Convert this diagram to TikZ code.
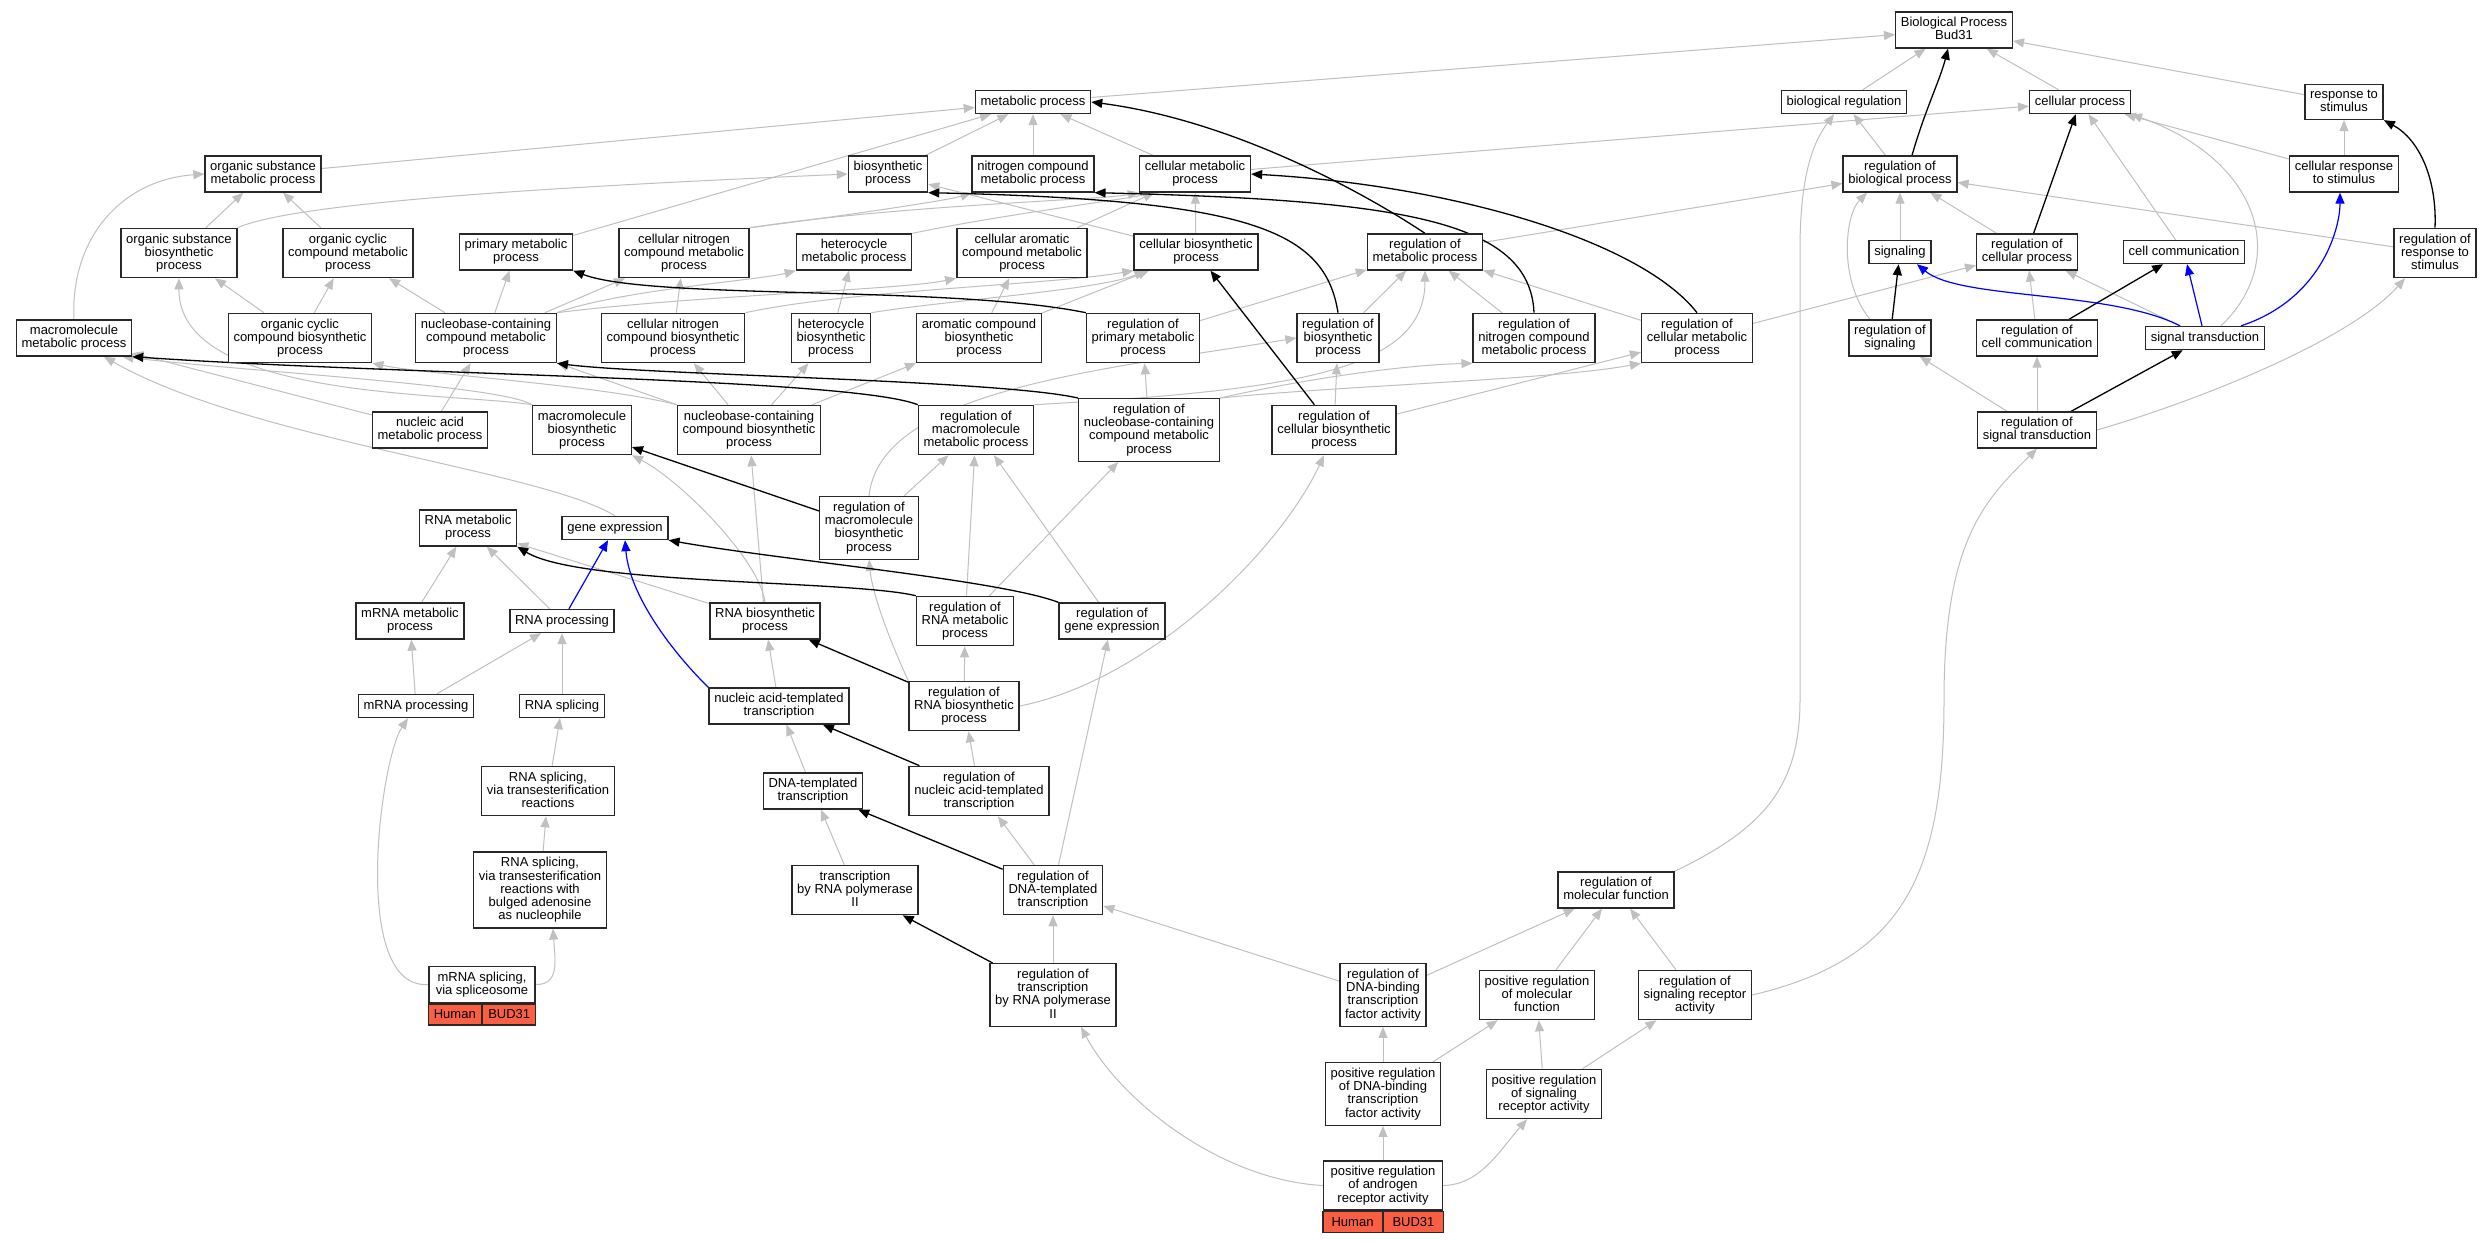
\documentclass[tikz,border=0pt]{standalone}
\usepackage{fontspec}
\setmainfont{Liberation Sans}
\usetikzlibrary{arrows.meta}
\pgfdeclarelayer{bg}
\pgfsetlayers{bg,main}
\definecolor{edgegray}{RGB}{192,192,192}
\definecolor{boxline}{RGB}{40,40,40}
\definecolor{annot}{RGB}{250,95,68}
\newcommand{\sT}{\rule[-1.4pt]{0pt}{6.3pt}}
\begin{document}
\begin{tikzpicture}[x=0.5pt,y=0.5pt,
 box/.style={draw=boxline, line width=0.7pt, fill=white, align=center, inner xsep=2.6pt, inner ysep=2.6pt, font=\fontsize{6.5}{6.65}\selectfont, execute at begin node=\sT, execute at end node=\sT},
 cell/.style={draw=boxline, line width=0.7pt, fill=annot, inner sep=0pt, minimum height=10.5pt, font=\fontsize{6.5}{6.65}\selectfont},
 arr/.style={-{Triangle[length=5.5pt,width=4.5pt]}},
 isa/.style={draw=edgegray, line width=0.5pt, arr},
 reg/.style={draw=black, line width=0.65pt, arr},
 partof/.style={draw=blue, line width=0.6pt, arr}]
\useasboundingbox (0,0) rectangle (2491,-1243);
\begin{pgfonlayer}{bg}
\fill[white] (0,0) rectangle (2491,-1243);
\end{pgfonlayer}
% nodes
\node[box] (bp) at (1954,-30) {Biological Process\\Bud31};
\node[box] (bioreg) at (1844,-102) {biological regulation};
\node[box] (cellproc) at (2080,-102) {cellular process};
\node[box] (resp) at (2344,-102) {response to\\stimulus};
\node[box] (metab) at (1033,-102) {metabolic process};
\node[box] (osmp) at (263,-174) {organic substance\\metabolic process};
\node[box] (biosyn) at (888,-174) {biosynthetic\\process};
\node[box] (ncmp) at (1033,-174) {nitrogen compound\\metabolic process};
\node[box] (cellmetab) at (1195,-174) {cellular metabolic\\process};
\node[box] (rbp) at (1900,-174) {regulation of\\biological process};
\node[box] (cresp) at (2344,-174) {cellular response\\to stimulus};
\node[box] (osbp) at (179,-253) {organic substance\\biosynthetic\\process};
\node[box] (occmp) at (348,-253) {organic cyclic\\compound metabolic\\process};
\node[box] (pmp) at (516,-252) {primary metabolic\\process};
\node[box] (cncmp) at (684,-253) {cellular nitrogen\\compound metabolic\\process};
\node[box] (hmp) at (854,-252) {heterocycle\\metabolic process};
\node[box] (cacmp) at (1022,-253) {cellular aromatic\\compound metabolic\\process};
\node[box] (cbp) at (1196,-252) {cellular biosynthetic\\process};
\node[box] (rmp) at (1425,-252) {regulation of\\metabolic process};
\node[box] (signaling) at (1900,-252) {signaling};
\node[box] (rcp) at (2027,-252) {regulation of\\cellular process};
\node[box] (cellcomm) at (2184,-252) {cell communication};
\node[box] (rrs) at (2435,-253) {regulation of\\response to\\stimulus};
\node[box] (mmp) at (74,-338) {macromolecule\\metabolic process};
\node[box] (occbp) at (300,-338) {organic cyclic\\compound biosynthetic\\process};
\node[box] (nccmp) at (486,-338) {nucleobase-containing\\compound metabolic\\process};
\node[box] (cncbp) at (673,-338) {cellular nitrogen\\compound biosynthetic\\process};
\node[box] (hbp) at (831,-338) {heterocycle\\biosynthetic\\process};
\node[box] (acbp) at (979,-338) {aromatic compound\\biosynthetic\\process};
\node[box] (rpmp) at (1143,-338) {regulation of\\primary metabolic\\process};
\node[box] (rbsp) at (1338,-338) {regulation of\\biosynthetic\\process};
\node[box] (rncmp) at (1534,-338) {regulation of\\nitrogen compound\\metabolic process};
\node[box] (rcmp) at (1697,-338) {regulation of\\cellular metabolic\\process};
\node[box] (rsig) at (1890,-338) {regulation of\\signaling};
\node[box] (rcc) at (2037,-338) {regulation of\\cell communication};
\node[box] (st) at (2205,-338) {signal transduction};
\node[box] (namp) at (430,-430) {nucleic acid\\metabolic process};
\node[box] (mbp) at (582,-430) {macromolecule\\biosynthetic\\process};
\node[box] (nccbp) at (749,-430) {nucleobase-containing\\compound biosynthetic\\process};
\node[box] (rmmp) at (976,-430) {regulation of\\macromolecule\\metabolic process};
\node[box] (rnccmp) at (1149,-430) {regulation of\\nucleobase-containing\\compound metabolic\\process};
\node[box] (rcbp) at (1334,-430) {regulation of\\cellular biosynthetic\\process};
\node[box] (rst) at (2037,-430) {regulation of\\signal transduction};
\node[box] (rnamp) at (468,-528) {RNA metabolic\\process};
\node[box] (ge) at (615,-528) {gene expression};
\node[box] (rmbp) at (869,-528) {regulation of\\macromolecule\\biosynthetic\\process};
\node[box] (mrnamp) at (410,-621) {mRNA metabolic\\process};
\node[box] (rnaproc) at (562,-621) {RNA processing};
\node[box] (rnabp) at (765,-621) {RNA biosynthetic\\process};
\node[box] (rrmp) at (965,-621) {regulation of\\RNA metabolic\\process};
\node[box] (rge) at (1112,-621) {regulation of\\gene expression};
\node[box] (mrnaproc) at (416,-706) {mRNA processing};
\node[box] (rnasplice) at (562,-706) {RNA splicing};
\node[box] (natt) at (779,-706) {nucleic acid-templated\\transcription};
\node[box] (rrbp) at (964,-706) {regulation of\\RNA biosynthetic\\process};
\node[box] (rsvt) at (548,-791) {RNA splicing,\\via transesterification\\reactions};
\node[box] (dtt) at (813,-791) {DNA-templated\\transcription};
\node[box] (rnatt) at (979,-791) {regulation of\\nucleic acid-templated\\transcription};
\node[box] (bulged) at (540,-890) {RNA splicing,\\via transesterification\\reactions with\\bulged adenosine\\as nucleophile};
\node[box] (trpol) at (855,-890) {transcription\\by RNA polymerase\\II};
\node[box] (rdtt) at (1053,-890) {regulation of\\DNA-templated\\transcription};
\node[box] (rmf) at (1616,-890) {regulation of\\molecular function};
\node[box, minimum width=53pt] (spliceo) at (482,-984.5) {mRNA splicing,\\via spliceosome};
\node[cell, minimum width=26.5pt, anchor=north east] (sph) at (spliceo.south) {Human};
\node[cell, minimum width=26.5pt, anchor=north west] (spb) at (spliceo.south) {BUD31};
\node[box] (rtpol) at (1053,-995) {regulation of\\transcription\\by RNA polymerase\\II};
\node[box] (rdbtfa) at (1383,-995) {regulation of\\DNA-binding\\transcription\\factor activity};
\node[box] (prmf) at (1537,-995) {positive regulation\\of molecular\\function};
\node[box] (rsra) at (1695,-995) {regulation of\\signaling receptor\\activity};
\node[box] (prdbtfa) at (1383,-1094) {positive regulation\\of DNA-binding\\transcription\\factor activity};
\node[box] (prsra) at (1544,-1094) {positive regulation\\of signaling\\receptor activity};
\node[box, minimum width=59.5pt] (prar) at (1383,-1185.5) {positive regulation\\of androgen\\receptor activity};
\node[cell, minimum width=29.75pt, anchor=north east] (prh) at (prar.south) {Human};
\node[cell, minimum width=29.75pt, anchor=north west] (prb) at (prar.south) {BUD31};
% edges
\begin{pgfonlayer}{bg}
% grey
\draw[isa] (bioreg) -- (bp);
\draw[isa] (cellproc) -- (bp);
\draw[isa] (resp) -- (bp);
\draw[isa] (metab) -- (bp);
\draw[isa] (rbp) -- (bioreg);
\draw[isa] (cellmetab) -- (cellproc);
\draw[isa] (cellcomm) -- (cellproc);
\draw[isa] ([xshift=8pt]st.north) .. controls (2290,-260) and (2260,-160) .. (cellproc.south east);
\draw[isa] (cresp) -- (cellproc);
\draw[isa] (cresp) -- (resp);
\draw[isa] (rrs) -- (rbp);
\draw[isa] (signaling) -- (rbp);
\draw[isa] (rcp) -- (rbp);
\draw[isa] ([xshift=-10pt]rsig.north) .. controls (1838,-280) and (1845,-215) .. ([xshift=-16.5pt]rbp.south);
\draw[isa] (rmp) -- (rbp);
\draw[isa] (rcc) -- (rcp);
\draw[isa] (st) -- (rcp);
\draw[isa] (rst) -- (rsig);
\draw[isa] (rst) -- (rcc);
\draw[isa] (rst.east) .. controls (2200,-400) and (2350,-340) .. ([xshift=-15pt]rrs.south);
\draw[isa] (rcmp) -- (rcp);
\draw[isa] (biosyn) -- (metab);
\draw[isa] (ncmp) -- (metab);
\draw[isa] (cellmetab) -- (metab);
\draw[isa] (osmp) -- (metab);
\draw[isa] (pmp) -- (metab);
\draw[isa] (osbp.north east) .. controls (300,-200) and (600,-185) .. (biosyn.west);
\draw[isa] (osbp) -- (osmp);
\draw[isa] (occmp) -- (osmp);
\draw[isa] (mmp.north) .. controls (70,-240) and (120,-180) .. (osmp.west);
\draw[isa] (occbp) -- (osbp);
\draw[isa] (occbp) -- (occmp);
\draw[isa] (nccmp) -- (occmp);
\draw[isa] (nccmp) -- (pmp);
\draw[isa] (nccmp) -- (cncmp);
\draw[isa] (nccmp.north east) .. controls (620,-290) and (760,-280) .. (hmp.south west);
\draw[isa] (nccmp.north east) .. controls (700,-295) and (900,-290) .. (cacmp.south west);
\draw[isa] (namp) -- (nccmp);
\draw[isa] (namp) -- (mmp);
\draw[isa] (mbp.north west) .. controls (500,-385) and (250,-372) .. ([xshift=-5pt]mmp.south east);
\draw[isa] (ge.north) .. controls (540,-470) and (250,-440) .. ([xshift=15pt]mmp.south);
\draw[isa] (mbp.north west) .. controls (450,-392) and (178,-400) .. (osbp.south);
\draw[isa] (nccbp.north west) .. controls (600,-385) and (430,-375) .. (occbp.south east);
\draw[isa] (nccbp) -- (nccmp);
\draw[isa] (nccbp) -- (cncbp);
\draw[isa] (nccbp) -- (hbp);
\draw[isa] (nccbp) -- (acbp);
\draw[isa] (cncbp) -- (cncmp);
\draw[isa] (cncbp.north east) .. controls (850,-290) and (1050,-285) .. (cbp.south west);
\draw[isa] (hbp) -- (hmp);
\draw[isa] (hbp.north east) .. controls (950,-300) and (1100,-290) .. ([xshift=6pt]cbp.south west);
\draw[isa] (acbp) -- (cacmp);
\draw[isa] (acbp) -- (cbp);
\draw[isa] (cncmp.north east) .. controls (850,-215) and (950,-200) .. (ncmp.south west);
\draw[isa] (cncmp.north east) .. controls (900,-205) and (1100,-200) .. (cellmetab.south west);
\draw[isa] (hmp.north east) .. controls (1000,-215) and (1120,-200) .. ([xshift=8pt]cellmetab.south west);
\draw[isa] (cacmp) -- (cellmetab);
\draw[isa] (cbp) -- (cellmetab);
\draw[isa] (cbp) -- (biosyn);
\draw[isa] (rpmp) -- (rmp);
\draw[isa] (rbsp) -- (rmp);
\draw[isa] (rncmp) -- (rmp);
\draw[isa] (rcmp) -- (rmp);
\draw[isa] (rcbp) -- (rbsp);
\draw[isa] (rcbp) -- (rcmp);
\draw[isa] (rmbp.north) .. controls (880,-390) and (1100,-370) .. (rbsp.west);
\draw[isa] (rmbp) -- (rmmp);
\draw[isa] (rmmp.north east) .. controls (1300,-390) and (1425,-370) .. (rmp.south);
\draw[isa] (rnccmp) -- (rpmp);
\draw[isa] (rnccmp.north east) .. controls (1300,-380) and (1400,-365) .. (rncmp.south west);
\draw[isa] (rnccmp.north east) .. controls (1350,-385) and (1550,-380) .. (rcmp.south west);
\draw[isa] (rrmp) -- (rmmp);
\draw[isa] (rrmp) -- (rnccmp);
\draw[isa] (rge) -- (rmmp);
\draw[isa] (rnaproc) -- (rnamp);
\draw[isa] (mrnamp) -- (rnamp);
\draw[isa] (rnabp) -- (rnamp);
\draw[isa] (rnabp) -- (nccbp);
\draw[isa] (rnabp.north) .. controls (760,-560) and (680,-480) .. (mbp.south east);
\draw[isa] (mrnaproc) -- (mrnamp);
\draw[isa] (mrnaproc) -- (rnaproc);
\draw[isa] (rnasplice) -- (rnaproc);
\draw[isa] (natt) -- (rnabp);
\draw[isa] (rsvt) -- (rnasplice);
\draw[isa] (bulged) -- (rsvt);
\draw[isa] (spliceo.east) .. controls (560,-985) and (555,-960) .. ([xshift=6.5pt]bulged.south);
\draw[isa] (spliceo.west) .. controls (350,-990) and (380,-760) .. ([xshift=-4pt]mrnaproc.south);
\draw[isa] (dtt) -- (natt);
\draw[isa] (trpol) -- (dtt);
\draw[isa] (rrbp) -- (rrmp);
\draw[isa] (rrbp.north west) .. controls (885,-630) and (872,-590) .. (rmbp.south);
\draw[isa] (rrbp.east) .. controls (1150,-680) and (1280,-550) .. ([xshift=-5pt]rcbp.south);
\draw[isa] (rnatt) -- (rrbp);
\draw[isa] (rdtt) -- (rnatt);
\draw[isa] (rdtt) -- (rge);
\draw[isa] (rtpol) -- (rdtt);
\draw[isa] (rdbtfa) -- (rdtt);
\draw[isa] (rdbtfa) -- (rmf);
\draw[isa] (prmf) -- (rmf);
\draw[isa] (rsra) -- (rmf);
\draw[isa] (rsra.east) .. controls (1900,-960) and (1944,-880) .. (1944,-700) .. controls (1944,-540) and (1985,-500) .. (rst.south);
\draw[isa] (rmf.north east) .. controls (1760,-830) and (1800,-790) .. (1800,-700) -- (1800,-250) .. controls (1800,-170) and (1815,-140) .. ([xshift=-5pt]bioreg.south);
\draw[isa] (prdbtfa) -- (rdbtfa);
\draw[isa] (prdbtfa) -- (prmf);
\draw[isa] (prsra) -- (prmf);
\draw[isa] (prsra) -- (rsra);
\draw[isa] (prar) -- (prdbtfa);
\draw[isa] (prar.east) .. controls (1480,-1185) and (1500,-1150) .. ([xshift=-8.5pt]prsra.south);
\draw[isa] (prar.west) .. controls (1220,-1180) and (1120,-1100) .. ([xshift=14pt]rtpol.south);
% black
\draw[reg] ([xshift=6pt]rbp.north) .. controls (1925,-110) and (1940,-80) .. ([xshift=-3pt]bp.south);
\draw[reg] (rcp) -- (cellproc);
\draw[reg] (rrs.north) .. controls (2437,-180) and (2420,-140) .. (resp.south east);
\draw[reg] (rsig) -- (signaling);
\draw[reg] (rcc) -- (cellcomm);
\draw[reg] (rst) -- (st);
\draw[reg] (rmp.north) .. controls (1360,-190) and (1230,-120) .. (metab.east);
\draw[reg] (rbsp.north) .. controls (1325,-230) and (1250,-200) .. (biosyn.south east);
\draw[reg] (rncmp.north) .. controls (1530,-220) and (1400,-200) .. (ncmp.south east);
\draw[reg] (rcmp.north) .. controls (1640,-240) and (1450,-185) .. (cellmetab.east);
\draw[reg] (rpmp.north west) .. controls (950,-285) and (650,-300) .. (pmp.south east);
\draw[reg] (rcbp) -- (cbp);
\draw[reg] (rmbp) -- (mbp);
\draw[reg] (rmmp.north west) .. controls (850,-378) and (400,-375) .. (mmp.south east);
\draw[reg] (rnccmp.north west) .. controls (1000,-380) and (650,-375) .. (nccmp.south east);
\draw[reg] (rrmp.north west) .. controls (850,-580) and (580,-585) .. (rnamp.south east);
\draw[reg] (rge.north west) .. controls (1000,-580) and (780,-560) .. (ge.south east);
\draw[reg] (rrbp) -- (rnabp);
\draw[reg] (rnatt) -- (natt);
\draw[reg] (rdtt) -- (dtt);
\draw[reg] (rtpol) -- (trpol);
% blue
\draw[partof] ([xshift=-12.5pt]st.north) .. controls (2110,-290) and (1960,-300) .. ([xshift=8.5pt]signaling.south);
\draw[partof] (st) -- (cellcomm);
\draw[partof] ([xshift=18pt]st.north) .. controls (2320,-300) and (2340,-230) .. ([xshift=-2pt]cresp.south);
\draw[partof] (rnaproc) -- (ge);
\draw[partof] (natt.north west) .. controls (680,-660) and (630,-600) .. ([xshift=5pt]ge.south);
\end{pgfonlayer}
\end{tikzpicture}
\end{document}
